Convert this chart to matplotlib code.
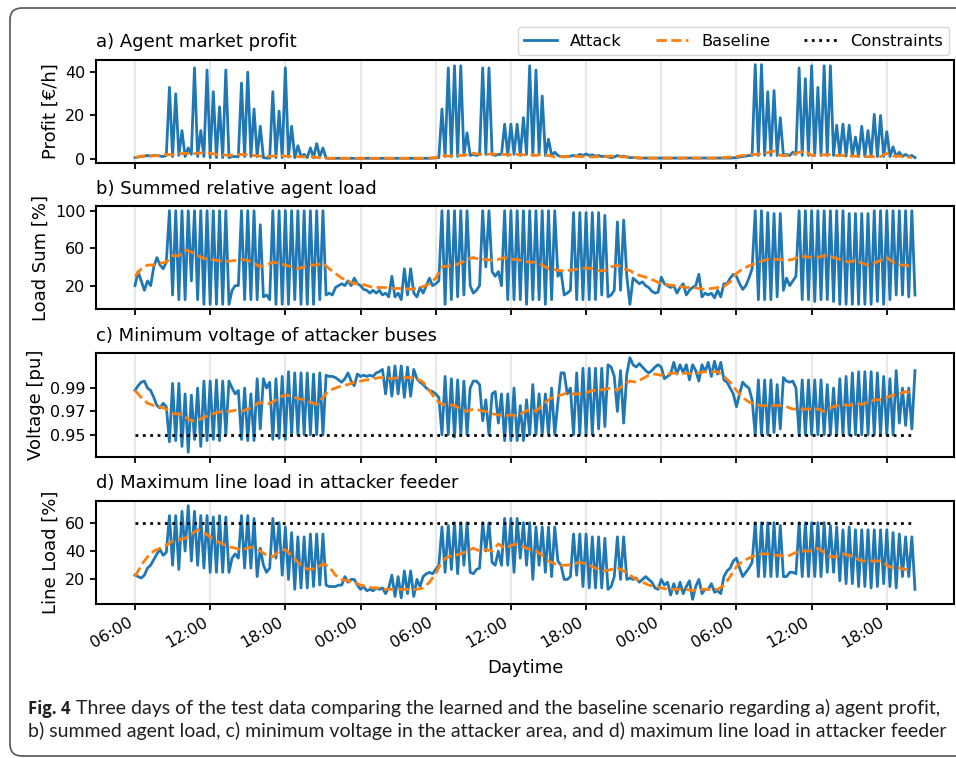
import numpy as np
import pandas as pd
import matplotlib
matplotlib.use("Agg")
import matplotlib.pyplot as plt
import matplotlib.dates as mdates
from matplotlib.patches import FancyBboxPatch

# 15 min steps for the attack runs, 30 min steps for the baseline
profit_attack = [
    0.5, 0.8, 1.0, 1.2, 1.5, 1.2, 1.5, 1.5, 1.2, 1.0,
    1.5, 33, 1.0, 30, 1.5, 13, 1.0, 5, 2.0, 42,
    1.0, 13, 1.0, 41, 0.5, 31, 0.5, 24, 0.5, 41,
    0.5, 1.0, 1.0, 1.0, 35, 1.0, 40, 1.0, 23, 1.0,
    15, 0.5, 0.3, 0.3, 31, 0.5, 22, 0.5, 42, 0.8,
    15, 0.5, 6, 1.0, 2, 0.5, 5, 0.5, 7, 1.0,
    5, 0.3, 0.2, 0.2, 0.2, 0.2, 0.2, 0.2, 0.2, 0.2,
    0.2, 0.2, 0.2, 0.2, 0.2, 0.2, 0.2, 0.2, 0.2, 0.2,
    0.2, 0.2, 0.2, 0.2, 0.2, 0.2, 0.2, 0.2, 0.2, 0.2,
    0.2, 0.2, 0.2, 0.2, 0.2, 0.3, 0.4, 0.5, 23, 1.0,
    42, 1.0, 43, 1.0, 43, 1.5, 12, 1.5, 2.0, 1.5,
    2.0, 42, 2.0, 42, 2.0, 1.5, 2.0, 2.0, 16, 1.5,
    16, 2.0, 16, 1.5, 19, 2.0, 43, 1.5, 41, 2.0,
    29, 1.5, 9, 1.5, 3, 1.5, 1.0, 0.8, 1.0, 1.2,
    1.5, 1.2, 2.0, 1.5, 2.2, 1.5, 1.8, 1.2, 1.5, 1.0,
    1.2, 0.8, 0.5, 0.8, 1.5, 1.0, 1.2, 0.8, 0.5, 0.5,
    0.4, 0.3, 0.3, 0.3, 0.3, 0.3, 0.3, 0.3, 0.3, 0.3,
    0.3, 0.3, 0.3, 0.3, 0.3, 0.3, 0.3, 0.3, 0.3, 0.3,
    0.3, 0.3, 0.3, 0.3, 0.3, 0.3, 0.3, 0.3, 0.3, 0.3,
    0.3, 0.4, 0.5, 0.8, 1.0, 1.2, 1.5, 1.5, 43.5, 1.5,
    43.5, 1.5, 31, 1.5, 31.5, 1.5, 19, 1.5, 2.0, 1.5,
    3.0, 2.0, 42, 1.5, 37, 1.5, 43, 1.5, 33, 1.5,
    43, 1.5, 43, 1.5, 15.5, 1.5, 16, 1.2, 15.5, 1.2,
    10, 1.0, 15, 1.0, 13, 1.0, 20.5, 1.0, 20, 1.0,
    12.5, 1.0, 5.5, 1.0, 3, 1.0, 2, 1.0, 1.5, 0.5,
]
load_attack = [
    20, 35, 25, 15, 25, 20, 40, 50, 42, 38,
    45, 100, 10, 100, 5, 100, 5, 100, 25, 100,
    5, 100, 0, 100, 0, 100, 0, 100, 0, 100,
    0, 15, 20, 20, 100, 5, 100, 5, 100, 5,
    85, 8, 10, 5, 100, 0, 100, 0, 100, 0,
    100, 5, 100, 0, 100, 0, 100, 0, 100, 5,
    100, 10, 12, 10, 18, 20, 22, 20, 25, 20,
    28, 22, 20, 16, 15, 12, 15, 12, 15, 10,
    12, 8, 30, 8, 12, 5, 38, 10, 38, 12,
    8, 18, 12, 20, 28, 20, 22, 25, 100, 0,
    100, 5, 100, 8, 100, 10, 100, 20, 12, 15,
    20, 100, 40, 100, 35, 30, 35, 20, 100, 5,
    100, 5, 100, 5, 100, 0, 100, 5, 100, 5,
    100, 0, 100, 5, 100, 30, 35, 10, 12, 15,
    98, 5, 98, 5, 98, 5, 98, 5, 98, 10,
    95, 8, 10, 15, 88, 15, 90, 30, 0, 28,
    25, 22, 24, 20, 18, 14, 12, 13, 29, 22,
    20, 18, 20, 12, 18, 22, 10, 15, 18, 20,
    32, 8, 12, 10, 12, 7, 15, 8, 22, 22,
    28, 32, 30, 22, 16, 20, 28, 38, 100, 5,
    100, 5, 98, 5, 97, 8, 97, 15, 28, 20,
    25, 30, 100, 5, 100, 5, 100, 3, 100, 5,
    100, 5, 100, 3, 100, 0, 100, 0, 97, 0,
    97, 0, 97, 0, 97, 0, 100, 3, 100, 0,
    100, 5, 100, 10, 100, 10, 100, 8, 100, 10,
]
voltage_attack = [
    0.988, 0.992, 0.995, 0.996, 0.990, 0.988, 0.982, 0.975, 0.973, 0.977,
    0.974, 0.944, 0.994, 0.945, 0.994, 0.940, 0.985, 0.935, 0.984, 0.946,
    0.990, 0.940, 0.996, 0.945, 0.996, 0.946, 0.997, 0.945, 0.996, 0.950,
    0.996, 0.990, 0.985, 0.988, 0.946, 0.990, 0.945, 0.985, 0.945, 0.998,
    0.955, 0.998, 0.990, 0.995, 0.946, 0.998, 0.947, 1.000, 0.946, 1.004,
    0.950, 1.003, 0.950, 1.003, 0.950, 1.003, 0.950, 1.002, 0.950, 1.003,
    0.950, 1.001, 1.000, 1.000, 0.999, 0.997, 0.995, 0.998, 1.003, 0.996,
    0.992, 1.002, 1.000, 1.001, 1.000, 1.001, 1.000, 1.003, 1.004, 1.006,
    0.985, 1.008, 0.983, 1.009, 0.985, 1.009, 0.982, 1.008, 0.983, 1.006,
    0.998, 0.995, 0.993, 0.990, 0.988, 0.987, 0.985, 0.982, 0.950, 1.000,
    0.950, 0.998, 0.948, 0.997, 0.950, 0.996, 0.950, 0.990, 0.996, 0.996,
    0.993, 0.962, 0.980, 0.950, 0.985, 0.987, 0.960, 0.985, 0.945, 0.985,
    0.945, 0.990, 0.945, 0.975, 0.945, 0.980, 0.950, 0.993, 0.950, 0.985,
    0.950, 0.985, 0.950, 0.990, 0.950, 0.978, 1.003, 1.003, 0.985, 0.990,
    0.950, 1.003, 0.950, 1.007, 0.950, 1.007, 0.950, 1.007, 0.955, 1.007,
    0.957, 1.010, 1.008, 1.000, 0.970, 1.005, 0.960, 1.002, 1.016, 1.010,
    1.008, 1.011, 1.008, 1.005, 1.003, 1.005, 1.008, 1.010, 1.008, 0.998,
    1.000, 1.002, 1.012, 1.002, 1.010, 1.003, 1.010, 0.997, 1.010, 1.005,
    0.996, 1.010, 1.004, 1.012, 1.000, 1.013, 1.002, 1.012, 0.997, 0.995,
    0.990, 0.985, 0.974, 0.985, 0.995, 0.992, 0.990, 0.980, 0.950, 0.997,
    0.950, 0.997, 0.950, 0.997, 0.952, 0.993, 0.955, 0.999, 0.996, 0.995,
    0.996, 0.990, 0.950, 0.997, 0.950, 0.997, 0.950, 0.997, 0.950, 0.997,
    0.950, 0.993, 0.950, 0.990, 0.950, 0.998, 0.950, 1.000, 0.950, 1.003,
    0.950, 1.004, 0.950, 1.004, 0.950, 1.004, 0.950, 1.003, 0.950, 1.000,
    0.950, 0.998, 0.950, 1.005, 0.960, 0.990, 0.958, 0.990, 0.955, 1.005,
]
line_attack = [
    23, 22, 21, 23, 28, 30, 34, 38, 41, 37,
    39, 65, 30, 65, 27, 68, 40, 72, 33, 68,
    30, 65, 28, 65, 25, 64, 25, 65, 25, 64,
    25, 35, 38, 35, 65, 28, 65, 28, 63, 22,
    42, 30, 25, 28, 63, 35, 60, 23, 57, 20,
    53, 13, 50, 14, 50, 14, 52, 15, 52, 16,
    52, 16, 15, 15, 15, 16, 16, 22, 18, 20,
    20, 16, 13, 15, 12, 13, 12, 14, 13, 14,
    10, 14, 23, 8, 22, 7, 26, 10, 26, 8,
    20, 15, 22, 24, 25, 24, 27, 30, 57, 25,
    58, 27, 60, 24, 60, 30, 60, 25, 24, 27,
    28, 60, 40, 60, 32, 30, 40, 30, 63, 30,
    63, 25, 63, 35, 60, 30, 60, 20, 57, 30,
    57, 25, 57, 22, 57, 33, 30, 20, 20, 22,
    52, 23, 52, 15, 52, 14, 50, 14, 50, 14,
    49, 13, 15, 22, 50, 20, 50, 20, 21, 20,
    21, 18, 20, 22, 20, 18, 14, 13, 20, 16,
    18, 9, 17, 10, 18, 10, 15, 19, 6, 15,
    20, 10, 13, 13, 17, 11, 12, 10, 22, 26,
    28, 33, 35, 28, 22, 25, 28, 32, 60, 22,
    60, 22, 60, 22, 60, 22, 58, 22, 22, 25,
    25, 24, 60, 22, 60, 22, 60, 22, 60, 22,
    60, 25, 58, 25, 57, 19, 55, 17, 57, 17,
    55, 15, 55, 15, 55, 14, 55, 15, 55, 17,
    55, 15, 53, 14, 52, 22, 50, 22, 50, 13,
]

profit_base = [
    0.5, 1.2, 1.5, 1.3, 1.5, 2.0, 1.8, 2.2, 2.5, 2.2,
    2.5, 2.8, 2.5, 2.0, 1.8, 1.5, 1.8, 2.0, 1.8, 1.5,
    1.2, 1.0, 1.2, 1.5, 1.2, 1.0, 1.0, 0.8, 1.0, 0.6,
    0.3, 0.2, 0.2, 0.2, 0.2, 0.2, 0.2, 0.2, 0.2, 0.2,
    0.2, 0.2, 0.2, 0.2, 0.2, 0.2, 0.2, 0.2, 0.5, 1.5,
    1.2, 1.5, 1.5, 1.8, 2.5, 2.0, 2.0, 2.2, 2.0, 2.0,
    1.8, 2.0, 1.8, 2.0, 1.5, 2.0, 1.5, 0.8, 1.0, 1.0,
    1.2, 1.0, 1.0, 0.8, 1.0, 1.0, 1.2, 1.0, 0.8, 1.0,
    0.5, 0.3, 0.3, 0.3, 0.3, 0.3, 0.3, 0.3, 0.3, 0.3,
    0.3, 0.3, 0.3, 0.3, 0.5, 0.8, 1.0, 1.5, 1.5, 2.0,
    2.2, 2.8, 3.5, 1.5, 1.5, 2.0, 3.0, 3.5, 1.5, 1.5,
    1.8, 1.8, 1.5, 1.5, 1.2, 1.2, 1.0, 1.0, 1.0, 1.0,
    2.5, 1.2, 1.2, 1.0, 0.5,
]
load_base = [
    30, 38, 42, 42, 44, 45, 52, 52, 58, 56,
    52, 49, 48, 47, 46, 46, 47, 48, 47, 44,
    40, 42, 45, 44, 42, 40, 38, 40, 42, 42,
    44, 38, 33, 28, 25, 22, 22, 20, 18, 18,
    18, 17, 17, 17, 16, 17, 19, 22, 28, 40,
    41, 42, 44, 48, 50, 48, 48, 47, 48, 50,
    48, 48, 46, 45, 45, 42, 38, 37, 36, 36,
    37, 38, 39, 38, 36, 36, 40, 42, 38, 36,
    32, 30, 28, 25, 22, 21, 20, 19, 18, 18,
    17, 16, 17, 18, 19, 24, 33, 38, 41, 44,
    46, 48, 48, 48, 47, 48, 51, 51, 50, 50,
    52, 51, 49, 47, 45, 47, 44, 42, 44, 47,
    50, 45, 42, 42, 40,
]
voltage_base = [
    0.988, 0.982, 0.977, 0.975, 0.974, 0.972, 0.968, 0.968, 0.965, 0.962,
    0.962, 0.965, 0.967, 0.969, 0.970, 0.970, 0.971, 0.970, 0.972, 0.975,
    0.978, 0.976, 0.978, 0.982, 0.984, 0.983, 0.981, 0.980, 0.978, 0.976,
    0.982, 0.988, 0.990, 0.992, 0.993, 0.995, 0.996, 0.997, 0.998, 0.999,
    0.999, 0.998, 0.999, 0.999, 0.999, 0.998, 0.995, 0.988, 0.980, 0.976,
    0.976, 0.975, 0.972, 0.970, 0.972, 0.971, 0.970, 0.968, 0.967, 0.966,
    0.967, 0.966, 0.969, 0.972, 0.970, 0.975, 0.980, 0.983, 0.984, 0.986,
    0.985, 0.985, 0.986, 0.988, 0.988, 0.989, 0.990, 0.988, 0.993, 0.996,
    0.995, 0.998, 1.001, 1.002, 1.001, 1.002, 1.003, 1.002, 1.003, 1.002,
    1.003, 1.004, 1.004, 1.004, 1.000, 0.995, 0.988, 0.982, 0.978, 0.976,
    0.975, 0.975, 0.975, 0.975, 0.974, 0.972, 0.972, 0.972, 0.972, 0.972,
    0.970, 0.973, 0.975, 0.976, 0.975, 0.977, 0.976, 0.978, 0.980, 0.980,
    0.982, 0.984, 0.985, 0.987, 0.986,
]
line_base = [
    22, 30, 36, 40, 42, 44, 47, 48, 49, 52,
    55, 53, 50, 47, 45, 43, 42, 41, 42, 43,
    40, 37, 36, 40, 41, 37, 32, 28, 27, 28,
    31, 29, 23, 20, 19, 18, 16, 15, 14, 14,
    13, 13, 13, 13, 13, 13, 14, 18, 24, 33,
    36, 37, 38, 40, 42, 40, 41, 40, 45, 42,
    44, 45, 43, 41, 40, 37, 33, 31, 30, 30,
    31, 32, 31, 29, 27, 26, 27, 28, 26, 23,
    20, 18, 16, 15, 14, 13, 13, 13, 13, 12,
    13, 13, 13, 13, 16, 22, 29, 33, 35, 37,
    38, 38, 37, 37, 36, 38, 40, 40, 40, 42,
    39, 36, 36, 38, 37, 35, 33, 33, 33, 33,
    30, 28, 28, 27, 27,
]
voltage_limit = 0.95
line_limit = 60

titles = ["a) Agent market profit", "b) Summed relative agent load",
          "c) Minimum voltage of attacker buses", "d) Maximum line load in attacker feeder"]
ylabels = ["Profit [€/h]", "Load Sum [%]", "Voltage [pu]", "Line Load [%]"]
yticks = [[0, 20, 40], [20, 60, 100], [0.95, 0.97, 0.99], [20, 40, 60]]
caption_1 = "Three days of the test data comparing the learned and the baseline scenario regarding a) agent profit,"
caption_2 = "b) summed agent load, c) minimum voltage in the attacker area, and d) maximum line load in attacker feeder"

t = pd.date_range("2019-06-03 06:00", periods=len(load_attack), freq="15min")
t_base = pd.date_range("2019-06-03 06:00", periods=len(load_base), freq="30min")

plt.rcParams["axes.linewidth"] = 1.5
plt.rcParams["xtick.major.width"] = 1.3
plt.rcParams["ytick.major.width"] = 1.3
plt.rcParams["xtick.major.size"] = 4
plt.rcParams["ytick.major.size"] = 4

fig = plt.figure(figsize=(9.56, 7.58), dpi=100)
rects = [(0.7850, 0.1359), (0.5923, 0.1359), (0.3971, 0.1372), (0.2032, 0.1359)]
axes = []
for b, h in rects:
    sx = axes[0] if axes else None
    axes.append(fig.add_axes([0.1004, b, 0.8975, h], sharex=sx))

attacks = [profit_attack, load_attack, voltage_attack, line_attack]
bases = [profit_base, load_base, voltage_base, line_base]
for i, ax in enumerate(axes):
    h_att, = ax.plot(t, attacks[i], color="#1f77b4", lw=2, label="Attack")
    h_base, = ax.plot(t_base, bases[i], color="#ff7f0e", lw=2, ls="--", label="Baseline")
    ax.set_title(titles[i], loc="left", fontsize=13, pad=9)
    ax.set_ylabel(ylabels[i], fontsize=13)
    ax.set_yticks(yticks[i])
    ax.tick_params(labelsize=11.5)
    ax.grid(axis="x", color="#e8e8e8", lw=1.5)
    ax.set_axisbelow(True)
    if i < 3:
        ax.tick_params(labelbottom=False)

h_con, = axes[2].plot(t, np.full(len(t), voltage_limit), "k:", lw=2, label="Constraints")
axes[3].plot(t, np.full(len(t), line_limit), "k:", lw=2)

axes[3].xaxis.set_major_locator(mdates.HourLocator(byhour=[0, 6, 12, 18]))
axes[3].xaxis.set_major_formatter(mdates.DateFormatter("%H:%M"))
axes[3].set_xlabel("Daytime", fontsize=13, labelpad=6)
plt.setp(axes[3].get_xticklabels(), rotation=30, ha="right")

axes[0].legend(handles=[h_att, h_base, h_con], loc="lower right", bbox_to_anchor=(1, 1),
               ncol=3, fontsize=11.7, borderaxespad=0.3, columnspacing=2.1)

# caption under the chart, sized so the second line fills the box width
cap_color = "#231f20"
renderer = fig.canvas.get_renderer()
cap2 = fig.text(28 / 956, 1 - 737 / 758, caption_2, fontsize=12, family="Lato",
                color=cap_color, va="baseline")
cap_size = 12 * 916 / cap2.get_window_extent(renderer).width
cap2.set_fontsize(cap_size)
fig_label = fig.text(28 / 956, 1 - 714 / 758, "Fig. 4", fontsize=cap_size * 0.85,
                     fontweight="bold", family="Open Sans", color=cap_color, va="baseline")
label_end = fig_label.get_window_extent(renderer).x1
fig.text((label_end + 6) / 956, 1 - 714 / 758, caption_1, fontsize=cap_size, family="Lato",
         color=cap_color, va="baseline")

frame = FancyBboxPatch((0.10, 0.02), 9.8, 7.48, boxstyle="round,pad=0,rounding_size=0.12",
                       transform=fig.dpi_scale_trans, fill=False, edgecolor="#555555", lw=1.2)
fig.add_artist(frame)

fig.savefig("out.png", dpi=100)
